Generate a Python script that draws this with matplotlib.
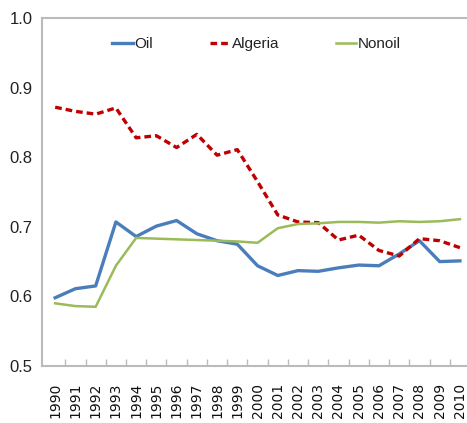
import matplotlib
matplotlib.use("Agg")
import matplotlib.pyplot as plt
import numpy as np

years = [str(y) for y in range(1990, 2011)]
oil = [0.598, 0.611, 0.615, 0.707, 0.686, 0.701, 0.709, 0.690, 0.680, 0.675,
       0.644, 0.630, 0.637, 0.636, 0.641, 0.645, 0.644, 0.661, 0.680, 0.650, 0.651]
algeria = [0.872, 0.866, 0.862, 0.871, 0.828, 0.831, 0.814, 0.833, 0.803, 0.811,
           0.765, 0.717, 0.707, 0.706, 0.681, 0.688, 0.666, 0.658, 0.683, 0.680, 0.670]
nonoil = [0.590, 0.586, 0.585, 0.644, 0.684, 0.683, 0.682, 0.681, 0.680, 0.679,
          0.677, 0.698, 0.704, 0.705, 0.707, 0.707, 0.706, 0.708, 0.707, 0.708, 0.711]
yticks = [0.5, 0.6, 0.7, 0.8, 0.9, 1.0]
ytick_labels = ["0.5", "0.6", "0.7", "0.8", "0.9", "1.0"]

lab_font = ['Liberation Sans', 'DejaVu Sans']

fig = plt.figure(figsize=(4.67, 4.23), dpi=100)
ax = fig.add_axes([0.09, 0.135, 0.91, 0.822])
x = np.arange(len(years))
ax.plot(x, oil, color='#4A7EBB', lw=2.4, label='Oil')
ax.plot(x, algeria, color='#C00000', lw=2.4, ls=(0, (2.0, 1.2)), label='Algeria')
ax.plot(x, nonoil, color='#9BBB59', lw=1.8, label='Nonoil')

ax.set_xlim(-0.65, 20.35)
ax.set_ylim(0.5, 1.0)
ax.set_yticks(yticks)
ax.set_yticklabels(ytick_labels, fontfamily=lab_font, fontsize=12, color='#222222')
ax.set_xticks(x)
ax.set_xticklabels(years, rotation=90, fontsize=10, color='#111111', fontfamily='DejaVu Sans')
ax.tick_params(axis='x', length=0, pad=12)
ax.set_xticks(np.arange(0.5, 20, 1), minor=True)
ax.tick_params(axis='x', which='minor', direction='in', length=5, color='#BBBBBB', width=1)
ax.tick_params(axis='y', length=0, pad=7)

for s in ['left', 'bottom', 'top']:
    ax.spines[s].set_color('#BBBBBB')
    ax.spines[s].set_linewidth(1.5)
ax.spines['right'].set_visible(False)

leg = ax.legend(loc='upper center', bbox_to_anchor=(0.505, 0.985), ncol=3, frameon=False,
                handlelength=1.35, handletextpad=0.1, columnspacing=3.7,
                prop={'family': lab_font, 'size': 11})
for t in leg.get_texts():
    t.set_color('#222222')

fig.savefig('out.png', dpi=100)
